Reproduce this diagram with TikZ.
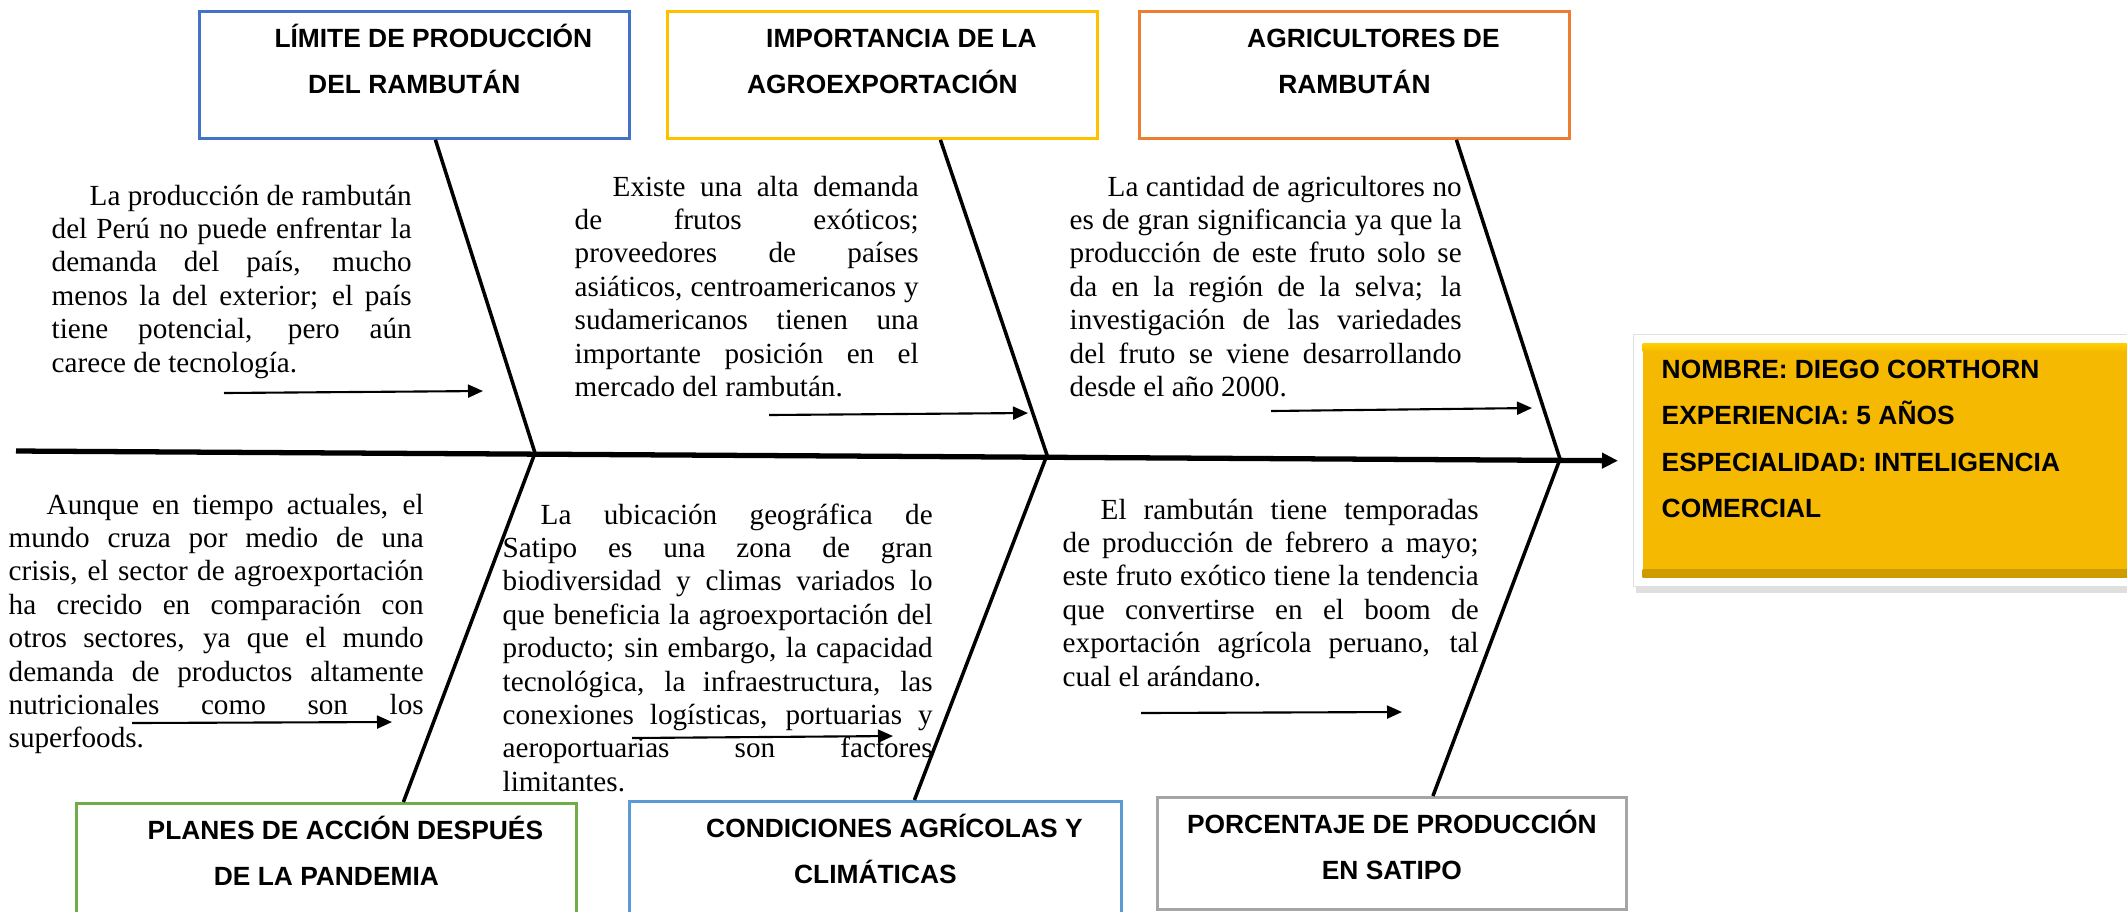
\documentclass[tikz,border=0pt]{standalone}
\usepackage{fontspec}
\setmainfont{Liberation Serif}
\setsansfont{Liberation Sans}
\usetikzlibrary{arrows.meta,shadows}

\definecolor{azul}{HTML}{4472C4}
\definecolor{oro}{HTML}{FFC000}
\definecolor{naranja}{HTML}{ED7D31}
\definecolor{verde}{HTML}{70AD47}
\definecolor{celeste}{HTML}{5B9BD5}
\definecolor{gris}{HTML}{A5A5A5}
\definecolor{amarillo}{RGB}{244,185,0}
\definecolor{amarilloosc}{RGB}{205,155,0}
\definecolor{oroclaro}{RGB}{255,206,0}

\tolerance=10000
\hbadness=10000
\hyphenpenalty=10000

\begin{document}
\begin{tikzpicture}[
	caja/.style={draw, line width=0.8pt, anchor=north west, inner sep=0pt, minimum width=4.3cm, minimum height=1.27cm},
	titulo/.style={anchor=north, inner sep=0pt, align=center, font=\sffamily\bfseries\fontsize{7.5}{13.1}\selectfont},
	texto/.style={anchor=north west, inner sep=0pt, align=justify, font=\fontsize{8.3}{9.5}\selectfont},
	hueso/.style={line width=1pt},
	espina/.style={line width=1.5pt, -{Triangle[length=1.6mm, width=1.5mm]}},
	flecha/.style={line width=0.6pt, -{Triangle[length=1.5mm, width=1.3mm]}},
	marco/.style={fill=white, draw=black!12, line width=0.4pt, anchor=north west, inner sep=0pt,
		minimum width=5.3cm, minimum height=2.52cm, drop shadow={opacity=0.25, shadow xshift=0.2mm, shadow yshift=-0.6mm}},
	ficha/.style={fill=amarillo, anchor=north west, inner sep=0pt, minimum width=5cm, minimum height=2.34cm,
		path picture={
			\shade[top color=amarillo, bottom color=amarilloosc] ([yshift=0.08cm]path picture bounding box.south west) rectangle (path picture bounding box.south east);
			\shade[top color=oroclaro, bottom color=amarillo] (path picture bounding box.north west) rectangle ([yshift=-0.08cm]path picture bounding box.north east);}}
]
	\useasboundingbox (0,0) rectangle (21.27,-9.11);

	% cajas de arriba
	\node[caja, draw=azul] (c1) at (1.98,-0.10) {};
	\node[caja, draw=oro] (c2) at (6.66,-0.10) {};
	\node[caja, draw=naranja] (c3) at (11.38,-0.10) {};
	\node[titulo] (t1) at ([yshift=-0.05cm]c1.north) {\hspace*{0.38cm}\strut LÍMITE DE PRODUCCIÓN\\DEL RAMBUTÁN};
	\node[titulo] (t2) at ([yshift=-0.05cm]c2.north) {\hspace*{0.38cm}\strut IMPORTANCIA DE LA\\AGROEXPORTACIÓN};
	\node[titulo] (t3) at ([yshift=-0.05cm]c3.north) {\hspace*{0.38cm}\strut AGRICULTORES DE\\RAMBUTÁN};

	% cajas de abajo (se cortan en el borde)
	\node[caja, draw=verde, minimum width=5cm, minimum height=1.4cm] (c4) at (0.75,-8.02) {};
	\node[caja, draw=celeste, minimum width=4.92cm, minimum height=1.4cm] (c5) at (6.28,-8.00) {};
	\node[caja, draw=gris, minimum width=4.69cm, minimum height=1.12cm] (c6) at (11.56,-7.96) {};
	\node[titulo] (t4) at ([yshift=-0.05cm]c4.north) {\hspace*{0.38cm}\strut PLANES DE ACCIÓN DESPUÉS\\DE LA PANDEMIA};
	\node[titulo] (t5) at ([yshift=-0.05cm]c5.north) {\hspace*{0.38cm}\strut CONDICIONES AGRÍCOLAS Y\\CLIMÁTICAS};
	\node[titulo] (t6) at ([yshift=-0.05cm]c6.north) {\strut PORCENTAJE DE PRODUCCIÓN\\EN SATIPO};

	% textos
	\node[texto, text width=3.60cm] (p1) at (0.51,-1.81) {\noindent\hspace*{0.38cm}\strut La producción de rambután\linebreak del Perú no puede enfrentar la\linebreak demanda del país, mucho\linebreak menos la del exterior; el país\linebreak tiene potencial, pero aún\linebreak carece de tecnología.};
	\node[texto, text width=3.44cm] (p2) at (5.74,-1.72) {\noindent\hspace*{0.38cm}\strut Existe una alta demanda\linebreak de frutos exóticos;\linebreak proveedores de países\linebreak asiáticos, centroamericanos y\linebreak sudamericanos tienen una\linebreak importante posición en el\linebreak mercado del rambután.};
	\node[texto, text width=3.92cm] (p3) at (10.69,-1.72) {\noindent\hspace*{0.38cm}\strut La cantidad de agricultores no\linebreak es de gran significancia ya que la\linebreak producción de este fruto solo se\linebreak da en la región de la selva; la\linebreak investigación de las variedades\linebreak del fruto se viene desarrollando\linebreak desde el año 2000.};
	\node[texto, text width=4.15cm] (p4) at (0.08,-4.90) {\noindent\hspace*{0.38cm}\strut Aunque en tiempo actuales, el\linebreak mundo cruza por medio de una\linebreak crisis, el sector de agroexportación\linebreak ha crecido en comparación con\linebreak otros sectores, ya que el mundo\linebreak demanda de productos altamente\linebreak nutricionales como son los\linebreak superfoods.};
	\node[texto, text width=4.30cm] (p5) at (5.02,-5.00) {\noindent\hspace*{0.38cm}\strut La ubicación geográfica de\linebreak Satipo es una zona de gran\linebreak biodiversidad y climas variados lo\linebreak que beneficia la agroexportación del\linebreak producto; sin embargo, la capacidad\linebreak tecnológica, la infraestructura, las\linebreak conexiones logísticas, portuarias y\linebreak aeroportuarias son factores\linebreak limitantes.};
	\node[texto, text width=4.16cm] (p6) at (10.62,-4.95) {\noindent\hspace*{0.38cm}\strut El rambután tiene temporadas\linebreak de producción de febrero a mayo;\linebreak este fruto exótico tiene la tendencia\linebreak que convertirse en el boom de\linebreak exportación agrícola peruano, tal\linebreak cual el arándano.};

	% ficha de la derecha
	\node[marco] (marco) at (16.33,-3.34) {};
	\node[ficha] (info) at (16.42,-3.43) {};
	\node[titulo, anchor=north west, align=left] (datos) at (16.61,-3.46) {\strut NOMBRE: DIEGO CORTHORN\\EXPERIENCIA: 5 AÑOS\\ESPECIALIDAD: INTELIGENCIA\\COMERCIAL};

	% espina y huesos
	\coordinate (ini) at (0.16,-4.51);
	\coordinate (j1) at (5.35,-4.53);
	\coordinate (j2) at (10.47,-4.55);
	\coordinate (j3) at (15.60,-4.59);
	\draw[espina] (ini) -- ([xshift=-0.15cm]marco.west);
	\draw[hueso] ([xshift=0.21cm]c1.south) -- (j1) -- ([xshift=0.77cm]c4.north);
	\draw[hueso] ([xshift=0.58cm]c2.south) -- (j2) -- ([xshift=0.39cm]c5.north);
	\draw[hueso] ([xshift=1.02cm]c3.south) -- (j3) -- ([xshift=0.41cm]c6.north);

	% flechas pequeñas
	\coordinate (a1) at (2.24,-3.93); \coordinate (b1) at (4.83,-3.91);
	\coordinate (a2) at (7.69,-4.15); \coordinate (b2) at (10.28,-4.13);
	\coordinate (a3) at (12.71,-4.11); \coordinate (b3) at (15.32,-4.08);
	\coordinate (a4) at (1.32,-7.23); \coordinate (b4) at (3.92,-7.22);
	\coordinate (a5) at (6.32,-7.38); \coordinate (b5) at (8.93,-7.36);
	\coordinate (a6) at (11.41,-7.13); \coordinate (b6) at (14.02,-7.12);
	\draw[flecha] (a1) -- (b1);
	\draw[flecha] (a2) -- (b2);
	\draw[flecha] (a3) -- (b3);
	\draw[flecha] (a4) -- (b4);
	\draw[flecha] (a5) -- (b5);
	\draw[flecha] (a6) -- (b6);
\end{tikzpicture}
\end{document}
